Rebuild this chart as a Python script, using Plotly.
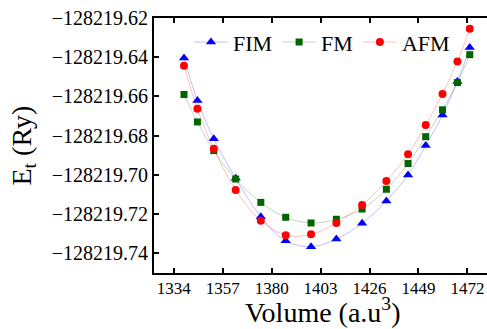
import plotly.graph_objects as go

volume = [1338.8, 1345.1, 1352.8, 1363.1, 1374.9, 1386.6, 1398.5, 1410.4,
          1422.5, 1433.9, 1444.1, 1452.4, 1460.3, 1467.3, 1473.1]

base = -128219.0
fim_off = [-0.6404, -0.6621, -0.6816, -0.7017, -0.7213, -0.7336, -0.7366, -0.7327,
           -0.7247, -0.7133, -0.7000, -0.6850, -0.6694, -0.6524, -0.6350]
fm_off = [-0.6590, -0.6730, -0.6876, -0.7021, -0.7140, -0.7216, -0.7245, -0.7226,
          -0.7174, -0.7073, -0.6942, -0.6805, -0.6668, -0.6529, -0.6387]
afm_off = [-0.6444, -0.6663, -0.6867, -0.7077, -0.7233, -0.7307, -0.7303, -0.7245,
           -0.7153, -0.7031, -0.6894, -0.6745, -0.6588, -0.6422, -0.6255]

fim = [base + v for v in fim_off]
fm = [base + v for v in fm_off]
afm = [base + v for v in afm_off]

x_ticks = [1334, 1357, 1380, 1403, 1426, 1449, 1472]
y_ticks = [-128219.62, -128219.64, -128219.66, -128219.68, -128219.70, -128219.72, -128219.74]
y_ticktext = ["\u2212128219.62", "\u2212128219.64", "\u2212128219.66", "\u2212128219.68",
              "\u2212128219.70", "\u2212128219.72", "\u2212128219.74"]

x_title = "Volume (a.u<sup>3</sup>)"
y_title = "E<sub>t</sub> (Ry)"

FONT = "Liberation Serif"

fig = go.Figure()
fig.add_trace(go.Scatter(
    x=volume, y=fim, name="FIM", mode="lines+markers",
    line=dict(color="rgba(0,0,255,0.25)", width=1, shape="spline"),
    marker=dict(symbol="triangle-up", size=9, color="#0000FF", line=dict(width=0)),
))
fig.add_trace(go.Scatter(
    x=volume, y=fm, name="FM", mode="lines+markers",
    line=dict(color="rgba(0,100,0,0.25)", width=1, shape="spline"),
    marker=dict(symbol="square", size=7, color="#006400", line=dict(width=0)),
))
fig.add_trace(go.Scatter(
    x=volume, y=afm, name="AFM", mode="lines+markers",
    line=dict(color="rgba(255,0,0,0.25)", width=1, shape="spline"),
    marker=dict(symbol="circle", size=8, color="#FF0000", line=dict(width=0)),
))

fig.update_layout(
    width=487, height=329,
    margin=dict(l=154, r=0, t=18, b=56),
    paper_bgcolor="white", plot_bgcolor="white",
    font=dict(family=FONT, color="black"),
    showlegend=True,
    legend=dict(
        orientation="h", x=0.105, y=0.905, xanchor="left", yanchor="middle",
        font=dict(family=FONT, size=22), bgcolor="rgba(0,0,0,0)",
        itemwidth=34,
    ),
    xaxis=dict(
        range=[1324.7, 1481.2], tickvals=x_ticks,
        ticks="inside", ticklen=5, tickwidth=2, tickcolor="black",
        showline=True, linewidth=2, linecolor="black", mirror="ticks",
        showgrid=False, zeroline=False,
        tickfont=dict(family=FONT, size=17),
        ticklabelstandoff=-1,
    ),
    yaxis=dict(
        range=[-128219.75, -128219.62], tickvals=y_ticks, ticktext=y_ticktext,
        ticks="inside", ticklen=5, tickwidth=2, tickcolor="black",
        showline=True, linewidth=2, linecolor="black", mirror=False,
        showgrid=False, zeroline=False,
        tickfont=dict(family=FONT, size=20),
    ),
    annotations=[
        dict(text=x_title, xref="paper", yref="paper", x=0.505, y=0,
             xanchor="center", yanchor="middle", yshift=-37, showarrow=False,
             font=dict(family=FONT, size=28)),
        dict(text=y_title, xref="paper", yref="paper", x=0, y=0.5,
             xanchor="center", yanchor="middle", xshift=-131, showarrow=False,
             textangle=-90, font=dict(family=FONT, size=28)),
    ],
)

fig.write_html("out.html")
